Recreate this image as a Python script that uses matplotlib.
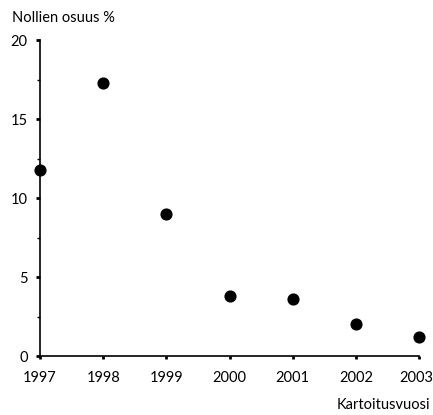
import matplotlib
matplotlib.use("Agg")
import matplotlib.pyplot as plt
from matplotlib.ticker import MultipleLocator
from matplotlib.transforms import ScaledTranslation

years = [1997, 1998, 1999, 2000, 2001, 2002, 2003]
share = [11.8, 17.3, 9.0, 3.8, 3.6, 2.0, 1.2]
yticks = [0, 5, 10, 15, 20]

plt.rcParams['font.family'] = ['Lato', 'DejaVu Sans']
fig = plt.figure(figsize=(4.33, 4.15), dpi=100)
ax = fig.add_axes([40/433, 1-356/415, 379/433, 316/415])
ax.scatter(years, share, s=60, color='black', zorder=3, clip_on=False)
ax.set_xlim(1997, 2003)
ax.set_ylim(0, 20)
ax.set_xticks(years)
ax.set_xticklabels([str(y) for y in years])
ax.set_yticks(yticks)
ax.yaxis.set_minor_locator(MultipleLocator(2.5))
for s in ['top', 'right']:
    ax.spines[s].set_visible(False)
for s in ['left', 'bottom']:
    ax.spines[s].set_linewidth(1.2)
ax.tick_params(axis='y', which='major', length=3, width=2, direction='out', labelsize=10.5, pad=6)
ax.tick_params(axis='y', which='minor', length=2, width=1, direction='out')
ax.tick_params(axis='x', which='major', length=2, width=2, direction='out', labelsize=10.5, pad=9)
labels = ax.get_xticklabels()
labels[-1].set_transform(labels[-1].get_transform() + ScaledTranslation(-3/100, 0, fig.dpi_scale_trans))
fig.text(12/433, 1-18/415, 'Nollien osuus %', fontsize=10.5, ha='left', va='center')
fig.text(430/433, 1-405/415, 'Kartoitusvuosi', fontsize=10.5, ha='right', va='center')
fig.savefig('out.png', dpi=100)
